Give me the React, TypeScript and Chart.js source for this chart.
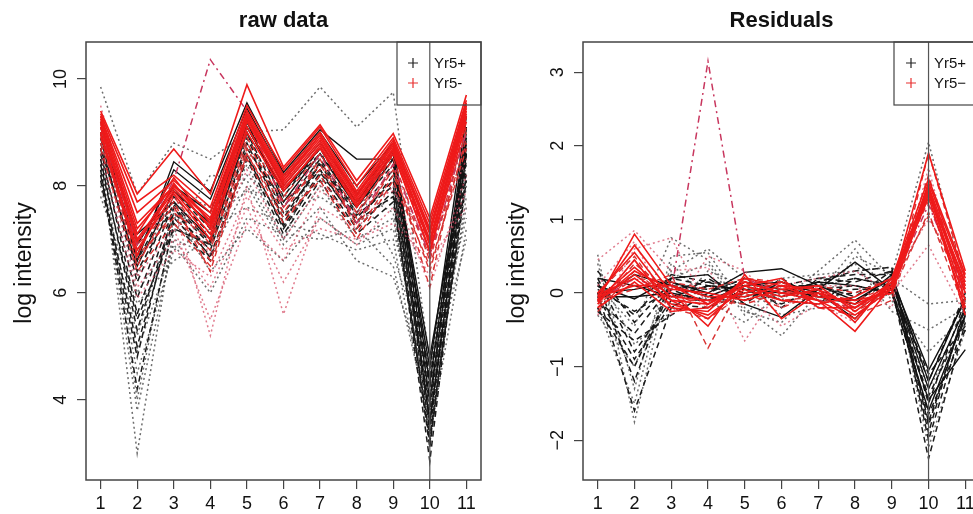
import React, { useEffect, useRef } from "react";
import { Chart, registerables } from "chart.js";

Chart.register(...registerables);

// ---------- data ----------
const xCategories = [1, 2, 3, 4, 5, 6, 7, 8, 9, 10, 11];
const rawYTicks = [4, 6, 8, 10];
const resYTicks = [-2, -1, 0, 1, 2, 3];
const legendLabelsRaw = ["Yr5+", "Yr5-"];
const legendLabelsRes = ["Yr5+", "Yr5\u2212"];

// raw data panel
const rawBlackSolid = [
  [9.2, 6.6, 8.45, 7.9, 9.55, 8.25, 9.05, 8.5, 8.5, 4.6, 9.3],
  [9.0, 6.7, 8.3, 7.75, 9.45, 8.2, 9.0, 8.0, 8.8, 4.3, 9.1],
  [8.9, 6.9, 8.0, 7.5, 9.3, 8.0, 8.8, 7.85, 8.65, 4.0, 8.9],
  [8.7, 6.5, 7.9, 7.3, 9.1, 7.9, 8.7, 7.7, 8.6, 4.8, 8.7],
  [9.1, 7.1, 7.7, 7.0, 9.2, 7.7, 8.6, 7.6, 8.5, 3.6, 8.6],
];
const rawBlackDashed = [
  [8.9, 6.2, 7.8, 7.1, 9.2, 7.8, 8.7, 7.6, 8.4, 3.9, 9.1],
  [8.7, 5.6, 7.6, 6.9, 9.0, 7.6, 8.5, 7.5, 8.3, 3.4, 8.9],
  [8.5, 5.3, 7.5, 6.8, 8.8, 7.4, 8.4, 7.4, 8.1, 3.1, 8.7],
  [8.3, 4.2, 7.3, 6.6, 8.6, 7.2, 8.2, 7.2, 7.9, 2.85, 8.5],
  [9.0, 6.6, 7.9, 7.2, 9.1, 7.9, 8.6, 7.7, 8.5, 4.2, 9.0],
  [8.6, 5.9, 7.7, 7.0, 8.9, 7.5, 8.3, 7.3, 8.2, 3.6, 8.3],
  [8.2, 5.0, 7.4, 6.7, 8.5, 7.1, 8.1, 7.1, 7.7, 3.3, 8.1],
  [8.8, 6.4, 7.65, 6.95, 9.0, 7.3, 8.45, 7.45, 8.0, 3.8, 8.8],
  [8.4, 5.5, 7.2, 6.9, 8.7, 7.7, 8.3, 7.6, 8.6, 4.4, 8.6],
  [8.1, 4.8, 7.6, 6.65, 8.55, 7.25, 8.25, 7.35, 7.8, 3.2, 8.2],
];
const rawBlackDotted = [
  [9.85, 7.85, 8.8, 8.5, 9.0, 9.05, 9.85, 9.1, 9.75, 4.7, 8.4],
  [8.6, 3.0, 7.2, 6.9, 8.4, 7.0, 8.0, 7.0, 7.4, 3.7, 8.0],
  [8.4, 3.8, 7.0, 6.7, 8.0, 6.9, 7.6, 6.6, 6.3, 4.1, 7.6],
  [8.2, 4.5, 6.8, 7.2, 7.6, 7.3, 7.1, 6.8, 7.0, 3.3, 7.2],
  [8.0, 5.2, 7.5, 6.4, 7.2, 6.6, 7.4, 6.9, 7.2, 4.3, 7.0],
  [7.8, 5.8, 6.6, 7.0, 8.2, 7.5, 7.8, 7.3, 7.8, 3.9, 8.2],
  [9.0, 6.3, 7.9, 7.6, 8.6, 8.2, 8.4, 7.6, 8.8, 4.5, 8.8],
  [8.8, 4.0, 7.4, 7.4, 7.9, 7.8, 8.1, 7.9, 7.5, 3.5, 7.8],
  [8.5, 6.0, 7.1, 8.2, 8.1, 7.0, 8.6, 8.0, 6.7, 4.6, 7.4],
  [8.3, 4.9, 6.9, 6.0, 7.4, 7.1, 7.0, 7.2, 6.5, 3.6, 8.6],
];
const rawRedSolid = [
  [9.4, 7.85, 8.69, 7.85, 9.89, 8.35, 9.14, 8.1, 8.98, 7.4, 9.7],
  [9.35, 7.7, 8.2, 7.6, 9.5, 8.3, 9.1, 8.0, 8.9, 7.3, 9.6],
  [9.3, 7.5, 8.1, 7.5, 9.4, 8.2, 9.0, 7.9, 8.85, 7.2, 9.55],
  [9.25, 7.2, 8.0, 7.4, 9.35, 8.15, 8.95, 7.85, 8.8, 7.1, 9.5],
  [9.2, 7.1, 8.15, 7.3, 9.3, 8.1, 8.9, 7.8, 8.75, 7.0, 9.45],
  [9.15, 7.0, 7.95, 7.25, 9.25, 8.05, 8.85, 7.75, 8.7, 6.95, 9.4],
  [9.1, 6.95, 7.9, 7.1, 9.2, 8.0, 8.8, 7.7, 8.7, 6.9, 9.35],
  [9.0, 6.8, 7.85, 7.0, 9.1, 7.95, 8.7, 7.6, 8.6, 6.8, 9.3],
  [8.95, 6.7, 8.05, 7.2, 9.0, 7.9, 8.75, 7.65, 8.65, 6.75, 9.2],
  [9.3, 7.3, 8.0, 7.35, 9.3, 8.1, 8.95, 7.8, 8.8, 7.15, 9.5],
];
const rawRedDashed = [
  [9.0, 6.5, 7.8, 6.9, 8.9, 7.8, 8.6, 7.5, 8.5, 6.6, 9.1],
  [8.8, 6.9, 7.6, 6.6, 8.7, 7.6, 8.4, 7.3, 8.3, 6.4, 8.9],
  [9.2, 7.0, 7.7, 6.4, 8.6, 7.5, 8.5, 7.2, 8.4, 6.1, 9.3],
  [8.9, 6.7, 7.4, 6.8, 8.8, 7.7, 8.3, 7.4, 8.6, 6.9, 9.0],
  [9.1, 6.6, 7.5, 7.0, 8.5, 7.3, 8.2, 7.1, 8.2, 6.7, 8.8],
  [8.7, 6.4, 7.3, 6.5, 8.6, 7.4, 8.1, 7.0, 8.1, 6.5, 8.7],
];
const rawRedDotted = [
  [9.5, 7.0, 7.6, 5.2, 8.0, 5.6, 7.6, 7.2, 8.0, 6.1, 8.2],
  [9.0, 6.3, 7.2, 5.5, 7.3, 6.6, 7.9, 7.5, 8.3, 6.8, 8.5],
  [8.8, 6.1, 7.0, 6.1, 7.6, 6.2, 7.4, 6.9, 7.6, 6.3, 7.9],
  [9.2, 6.8, 7.8, 6.7, 8.3, 7.0, 8.0, 7.7, 7.9, 7.0, 9.0],
  [8.6, 5.9, 6.8, 6.3, 7.8, 6.8, 7.2, 7.0, 7.3, 6.6, 7.6],
];
const rawRedDashDot = [
  [9.1, 6.9, 8.1, 10.36, 9.4, 7.6, 8.6, 7.3, 8.4, 6.7, 9.0],
];

// residuals panel
const resBlackSolid = [
  [0.1, -0.08, 0.2, 0.25, -0.15, -0.33, 0.05, 0.42, 0.05, -1.45, -0.77],
  [0.0, 0.05, 0.15, 0.0, 0.28, 0.33, 0.1, -0.1, 0.2, -1.05, -0.1],
  [-0.05, -0.05, 0.0, -0.1, 0.1, 0.15, 0.0, -0.35, 0.15, -1.3, -0.2],
  [0.2, 0.1, -0.05, 0.1, 0.05, 0.0, 0.15, 0.1, 0.0, -1.6, -0.3],
  [-0.1, 0.25, 0.1, -0.05, 0.15, 0.05, -0.05, -0.15, 0.25, -1.2, -0.05],
];
const resBlackDashed = [
  [0.1, -0.3, 0.25, 0.15, 0.0, 0.1, 0.2, 0.15, 0.3, -1.8, -0.2],
  [-0.1, -0.55, 0.1, 0.05, 0.1, -0.05, 0.1, 0.2, 0.1, -2.25, -0.4],
  [0.2, -0.8, -0.1, 0.2, -0.1, 0.15, -0.05, 0.0, 0.2, -1.5, -0.1],
  [-0.2, -1.0, 0.05, -0.15, 0.15, 0.0, 0.15, 0.3, 0.35, -2.0, -0.3],
  [0.0, -1.6, -0.2, 0.1, 0.05, -0.15, 0.05, 0.1, 0.0, -1.65, -0.5],
  [0.3, -0.4, 0.15, -0.05, -0.15, 0.2, -0.1, -0.1, 0.15, -1.2, 0.0],
  [-0.25, -0.65, -0.3, 0.0, 0.2, -0.2, 0.2, 0.25, 0.25, -1.9, -0.15],
  [0.15, -1.2, 0.2, 0.1, -0.05, 0.05, 0.0, 0.05, 0.05, -1.4, -0.35],
  [-0.05, -0.9, -0.15, -0.2, 0.0, 0.1, 0.1, -0.05, 0.3, -1.75, -0.25],
  [0.05, -0.25, 0.05, 0.15, 0.1, -0.1, -0.15, 0.2, 0.1, -1.1, -0.45],
];
const resBlackDotted = [
  [0.52, -1.75, 0.3, 0.6, 0.2, -0.1, 0.3, 0.72, 0.2, -0.15, -0.1],
  [0.4, -1.3, 0.5, 0.55, -0.2, -0.58, 0.0, 0.6, -0.1, -0.8, -0.3],
  [-0.3, -1.0, 0.2, 0.4, -0.3, 0.2, 0.25, 0.3, 0.35, -2.1, -0.5],
  [0.3, -0.7, -0.25, 0.3, 0.1, -0.3, -0.2, 0.5, 0.25, 2.05, 0.1],
  [-0.2, -1.5, 0.4, -0.1, -0.4, 0.0, 0.15, -0.2, 0.0, -1.3, -0.4],
  [0.1, -0.45, 0.75, 0.45, -0.25, -0.4, 0.1, 0.4, -0.25, -0.5, -0.2],
];
const resRedSolid = [
  [-0.1, 0.8, 0.1, -0.15, 0.15, 0.0, -0.1, -0.52, 0.1, 1.9, 0.3],
  [-0.05, 0.65, 0.0, -0.45, 0.25, -0.35, 0.0, -0.3, 0.05, 1.5, 0.2],
  [0.0, 0.55, -0.1, -0.35, 0.1, 0.2, -0.2, -0.2, 0.15, 1.45, 0.1],
  [-0.15, 0.45, -0.2, -0.25, 0.2, 0.1, 0.05, -0.4, 0.2, 1.4, 0.0],
  [-0.08, 0.35, -0.05, -0.1, 0.0, 0.15, -0.05, -0.1, 0.0, 1.35, -0.1],
  [-0.12, 0.3, 0.05, 0.0, -0.1, 0.05, 0.1, -0.25, 0.1, 1.3, -0.2],
  [-0.02, 0.2, -0.15, -0.3, 0.05, -0.1, -0.15, -0.05, 0.2, 1.55, 0.25],
  [-0.2, 0.15, -0.25, -0.2, 0.15, 0.0, 0.0, -0.15, 0.05, 1.45, -0.3],
  [-0.05, 0.1, 0.1, -0.05, -0.05, 0.1, -0.1, -0.35, 0.15, 1.35, 0.15],
  [-0.1, 0.25, -0.1, -0.15, 0.1, -0.05, 0.05, -0.2, 0.1, 1.4, 0.05],
];
const resRedDashed = [
  [-0.2, 0.4, 0.0, -0.2, 0.1, -0.1, -0.05, -0.25, 0.0, 1.1, -0.25],
  [0.0, 0.5, -0.2, -0.35, 0.0, -0.2, 0.0, -0.1, 0.1, 1.05, 0.0],
  [-0.15, 0.2, 0.15, 0.05, 0.2, 0.15, -0.2, -0.3, -0.1, 1.9, 0.2],
  [-0.25, 0.3, -0.1, -0.1, -0.15, 0.0, 0.1, 0.0, 0.2, 1.25, -0.15],
  [-0.1, 0.05, 0.25, -0.75, 0.2, 0.05, -0.1, -0.2, 0.05, 1.6, -0.1],
];
const resRedDotted = [
  [0.45, 0.85, 0.3, 0.35, -0.65, 0.1, 0.2, 0.3, 0.0, 0.65, -0.3],
  [-0.3, 0.6, 0.75, -0.2, 0.0, -0.45, -0.15, -0.4, 0.2, 1.0, 0.25],
  [0.1, 0.7, -0.3, 0.5, 0.3, -0.2, 0.1, 0.1, -0.2, 1.7, -0.2],
];
const resRedDashDot = [
  [-0.1, 0.2, 0.0, 3.15, 0.2, 0.0, -0.1, -0.2, 0.1, 1.2, 0.0],
];

// ---------- styles ----------
const FONT = '"Liberation Sans", Arial, Helvetica, sans-serif';
const styles = {
  blackDotted: { color: "rgba(60,60,60,0.75)", dash: [2, 3], width: 1.5 },
  blackDashed: { color: "#1a1a1a", dash: [6, 4], width: 1.5 },
  blackSolid: { color: "#111111", dash: [] as number[], width: 1.4 },
  redDotted: { color: "rgba(214,80,104,0.75)", dash: [2, 3], width: 1.5 },
  redDashed: { color: "#d83232", dash: [6, 4], width: 1.4 },
  redDashDot: { color: "#c8365e", dash: [7, 4, 2, 4], width: 1.5 },
  redSolid: { color: "#ee1a1a", dash: [] as number[], width: 1.6 },
};

type Group = { rows: number[][]; style: { color: string; dash: number[]; width: number } };

function buildDatasets(groups: Group[]) {
  const ds: any[] = [];
  groups.forEach((g) =>
    g.rows.forEach((row) =>
      ds.push({
        data: row.map((y, i) => ({ x: xCategories[i], y })),
        borderColor: g.style.color,
        borderDash: g.style.dash,
        borderWidth: g.style.width,
        pointRadius: 0,
        fill: false,
        tension: 0,
      })
    )
  );
  // chart.js paints the first dataset on top
  return ds.reverse();
}

const fmt = (v: number) => (v < 0 ? "\u2212" + Math.abs(v) : String(v));

const overlayPlugin = {
  id: "overlay",
  afterDatasetsDraw(chart: any, _args: any, opts: any) {
    const { ctx, chartArea: a, scales } = chart;
    const xs = scales.x;
    const ys = scales.y;
    ctx.save();
    ctx.setLineDash([]);
    // vertical reference line
    const vx = xs.getPixelForValue(opts.vline);
    ctx.strokeStyle = "#555";
    ctx.lineWidth = 1.2;
    ctx.beginPath();
    ctx.moveTo(vx, a.top);
    ctx.lineTo(vx, a.bottom);
    ctx.stroke();
    // legend box
    const lw = opts.legendWidth;
    const lx = a.right - lw;
    ctx.strokeStyle = "#444";
    ctx.lineWidth = 1.2;
    ctx.strokeRect(lx, a.top, lw, 63);
    const rows = [
      { c: "#222", t: opts.legend[0], y: a.top + 21 },
      { c: "#e83030", t: opts.legend[1], y: a.top + 41 },
    ];
    rows.forEach((r) => {
      const cx = lx + opts.legendSym;
      ctx.strokeStyle = r.c;
      ctx.lineWidth = 1.2;
      ctx.beginPath();
      ctx.moveTo(cx - 5, r.y);
      ctx.lineTo(cx + 5, r.y);
      ctx.moveTo(cx, r.y - 5);
      ctx.lineTo(cx, r.y + 5);
      ctx.stroke();
      ctx.fillStyle = "#111";
      ctx.font = "15px " + FONT;
      ctx.textAlign = "left";
      ctx.textBaseline = "middle";
      ctx.fillText(r.t, lx + opts.legendText, r.y + 1);
    });
    // plot box
    ctx.strokeStyle = "#444";
    ctx.lineWidth = 1.5;
    ctx.strokeRect(a.left, a.top, a.right - a.left, a.bottom - a.top);
    // tick labels
    ctx.fillStyle = "#111";
    ctx.font = "18px " + FONT;
    ctx.textAlign = "center";
    ctx.textBaseline = "middle";
    xCategories.forEach((v) => ctx.fillText(String(v), xs.getPixelForValue(v), a.bottom + 24));
    opts.yTicks.forEach((v: number) => {
      ctx.save();
      ctx.translate(a.left - 25, ys.getPixelForValue(v));
      ctx.rotate(-Math.PI / 2);
      ctx.fillText(fmt(v), 0, 0);
      ctx.restore();
    });
    // axis title
    ctx.save();
    ctx.font = "23px " + FONT;
    ctx.translate(a.left - opts.yLabelOffset, (a.top + a.bottom) / 2 + 2);
    ctx.rotate(-Math.PI / 2);
    ctx.fillText("log intensity", 0, 0);
    ctx.restore();
    // title
    ctx.font = "bold 22px " + FONT;
    ctx.fillText(opts.title, (a.left + a.right) / 2, 21);
    ctx.restore();
  },
};

type PanelCfg = {
  title: string;
  groups: Group[];
  yTicks: number[];
  yMin: number;
  yMax: number;
  axisWidth: number;
  padRight: number;
  canvasWidth: number;
  left: number;
  legend: string[];
  legendWidth: number;
  legendSym: number;
  legendText: number;
  yLabelOffset: number;
};

function Panel({ cfg }: { cfg: PanelCfg }) {
  const ref = useRef<HTMLCanvasElement>(null);
  useEffect(() => {
    if (!ref.current) return;
    const chart = new Chart(ref.current, {
      type: "line",
      data: { datasets: buildDatasets(cfg.groups) },
      plugins: [overlayPlugin as any],
      options: {
        animation: false,
        responsive: false,
        devicePixelRatio: 1,
        layout: { padding: { top: 42, right: cfg.padRight, left: 0, bottom: 0 } },
        plugins: {
          legend: { display: false },
          title: { display: false },
          tooltip: { enabled: false },
          overlay: {
            vline: 10,
            yTicks: cfg.yTicks,
            title: cfg.title,
            legend: cfg.legend,
            legendWidth: cfg.legendWidth,
            legendSym: cfg.legendSym,
            legendText: cfg.legendText,
            yLabelOffset: cfg.yLabelOffset,
          },
        } as any,
        scales: {
          x: {
            type: "linear",
            min: 0.6,
            max: 11.4,
            afterBuildTicks: (s: any) => {
              s.ticks = xCategories.map((v) => ({ value: v }));
            },
            afterFit: (s: any) => {
              s.height = 34;
            },
            ticks: { color: "rgba(0,0,0,0)", autoSkip: false, maxRotation: 0 },
            grid: { drawOnChartArea: false, drawTicks: true, tickLength: 9, color: "#444", lineWidth: 1.2 },
            border: { display: false },
          },
          y: {
            type: "linear",
            min: cfg.yMin,
            max: cfg.yMax,
            afterBuildTicks: (s: any) => {
              s.ticks = cfg.yTicks.map((v) => ({ value: v }));
            },
            afterFit: (s: any) => {
              s.width = cfg.axisWidth;
            },
            ticks: { color: "rgba(0,0,0,0)", autoSkip: false },
            grid: { drawOnChartArea: false, drawTicks: true, tickLength: 9, color: "#444", lineWidth: 1.2 },
            border: { display: false },
          },
        },
      },
    });
    return () => chart.destroy();
  }, []);
  return (
    <canvas
      ref={ref}
      width={cfg.canvasWidth}
      height={514}
      style={{ position: "absolute", left: cfg.left, top: 0, width: cfg.canvasWidth, height: 514 }}
    />
  );
}

const rawCfg: PanelCfg = {
  title: "raw data",
  groups: [
    { rows: rawBlackDotted, style: styles.blackDotted },
    { rows: rawBlackDashed, style: styles.blackDashed },
    { rows: rawBlackSolid, style: styles.blackSolid },
    { rows: rawRedDotted, style: styles.redDotted },
    { rows: rawRedDashed, style: styles.redDashed },
    { rows: rawRedDashDot, style: styles.redDashDot },
    { rows: rawRedSolid, style: styles.redSolid },
  ],
  yTicks: rawYTicks,
  yMin: 2.5,
  yMax: 10.69,
  axisWidth: 86,
  padRight: 9,
  canvasWidth: 490,
  left: 0,
  legend: legendLabelsRaw,
  legendWidth: 84,
  legendSym: 16,
  legendText: 37,
  yLabelOffset: 61,
};

const resCfg: PanelCfg = {
  title: "Residuals",
  groups: [
    { rows: resBlackDotted, style: styles.blackDotted },
    { rows: resBlackDashed, style: styles.blackDashed },
    { rows: resBlackSolid, style: styles.blackSolid },
    { rows: resRedDotted, style: styles.redDotted },
    { rows: resRedDashed, style: styles.redDashed },
    { rows: resRedDashDot, style: styles.redDashDot },
    { rows: resRedSolid, style: styles.redSolid },
  ],
  yTicks: resYTicks,
  yMin: -2.54,
  yMax: 3.41,
  axisWidth: 93,
  padRight: 10,
  canvasWidth: 500,
  left: 490,
  legend: legendLabelsRes,
  legendWidth: 86,
  legendSym: 17,
  legendText: 40,
  yLabelOffset: 65,
};

export default function App() {
  return (
    <div
      style={{
        position: "fixed",
        left: 0,
        top: 0,
        width: 973,
        height: 514,
        overflow: "hidden",
        background: "#fff",
      }}
    >
      <Panel cfg={rawCfg} />
      <Panel cfg={resCfg} />
    </div>
  );
}
